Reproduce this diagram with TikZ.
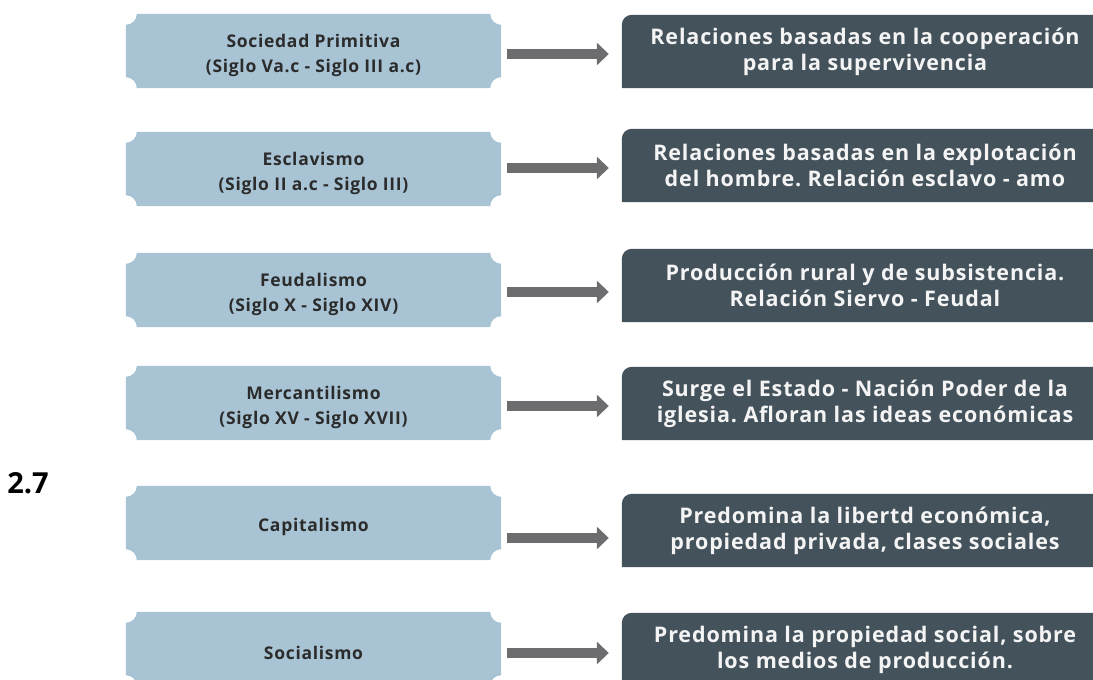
\documentclass[tikz,border=0pt]{standalone}
\usepackage{fontspec}
\setmainfont{Open Sans}
\newfontfamily\boxfont[LetterSpace=4]{Open Sans}
\usetikzlibrary{arrows.meta,backgrounds,calc}
\definecolor{lightbox}{HTML}{A8C4D4}
\definecolor{darkbox}{HTML}{44525C}
\definecolor{arrowgray}{HTML}{6D6D70}
\definecolor{lefttext}{HTML}{2B2B2B}
\definecolor{righttext}{HTML}{F4F4F4}
% the text of a left node sits 4pt below the middle of its box
\newcommand{\notchfill}[1]{%
  \fill[lightbox] ($(#1.north west)+(11pt,4pt)$) -- ($(#1.north east)+(-11pt,4pt)$)
    arc[start angle=180,end angle=270,radius=11pt]
    -- ($(#1.south east)+(0pt,15pt)$) arc[start angle=90,end angle=180,radius=11pt]
    -- ($(#1.south west)+(11pt,4pt)$) arc[start angle=0,end angle=90,radius=11pt]
    -- ($(#1.north west)+(0pt,-7pt)$) arc[start angle=270,end angle=360,radius=11pt]
    -- cycle;}
\newcommand{\darkfill}[1]{%
  \fill[darkbox] (#1.south west) [rounded corners=10pt] -- (#1.north west) -- (#1.north east)
    [sharp corners] -- (#1.south east) -- cycle;}
\begin{document}
\frenchspacing
\begin{tikzpicture}[x=1pt,y=-1pt,
  era/.style={minimum width=375pt, minimum height=74pt, inner sep=0pt, align=center,
    font=\boxfont\bfseries\fontsize{17.5}{25}\selectfont, text=lefttext},
  desc/.style={minimum width=486pt, minimum height=73pt, inner sep=0pt, align=center,
    font=\boxfont\bfseries\fontsize{21.5}{26}\selectfont, text=righttext},
  flow/.style={arrowgray, line width=10pt, -{Triangle[width=22pt,length=12pt]},
    shorten <=6pt, shorten >=13pt}]
\useasboundingbox (0,0) rectangle (1093,680);
\clip (0,0) rectangle (1093,680);

\node[era] (L1) at (313.5,55) {Sociedad Primitiva\\(Siglo Va.c - Siglo III a.c)};
\node[era] (L2) at (313.5,173) {Esclavismo\\(Siglo II a.c - Siglo III)};
\node[era] (L3) at (313.5,294) {Feudalismo\\(Siglo X - Siglo XIV)};
\node[era] (L4) at (313.5,407) {Mercantilismo\\(Siglo XV - Siglo XVII)};
\node[era] (L5) at (313.5,527) {Capitalismo};
\node[era] (L6) at (313.5,653) {Socialismo};

\node[desc] (R1) at (865,51.5) {Relaciones basadas en la cooperación\\para la supervivencia};
\node[desc] (R2) at (865,165.5) {Relaciones basadas en la explotación\\del hombre. Relación esclavo - amo};
\node[desc] (R3) at (865,285.5) {Producción rural y de subsistencia.\\Relación Siervo - Feudal};
\node[desc] (R4) at (865,403.5) {Surge el Estado - Nación Poder de la\\iglesia. Afloran las ideas económicas};
\node[desc] (R5) at (865,530.5) {Predomina la libertd económica,\\propiedad privada, clases sociales};
\node[desc] (R6) at (865,649.5) {Predomina la propiedad social, sobre\\los medios de producción.};

\node[font=\bfseries\fontsize{29}{34}\selectfont, text=black] (lbl) at (28,483) {2.7};

\begin{scope}[on background layer]
  \foreach \n in {L1,L2,L3,L4,L5,L6} {\notchfill{\n}}
  \foreach \n in {R1,R2,R3,R4,R5,R6} {\darkfill{\n}}
\end{scope}

\draw[flow] ([yshift=1pt]L1.east) -- ([yshift=1pt]L1.east -| R1.west);
\draw[flow] ([yshift=5pt]L2.east) -- ([yshift=5pt]L2.east -| R2.west);
\draw[flow] ([yshift=2pt]L3.east) -- ([yshift=2pt]L3.east -| R3.west);
\draw[flow] ([yshift=1pt]L4.east) -- ([yshift=1pt]L4.east -| R4.west);
\draw[flow] ([yshift=-11pt]L5.east) -- ([yshift=-11pt]L5.east -| R5.west);
\draw[flow] ([yshift=0pt]L6.east) -- ([yshift=0pt]L6.east -| R6.west);
\end{tikzpicture}
\end{document}
